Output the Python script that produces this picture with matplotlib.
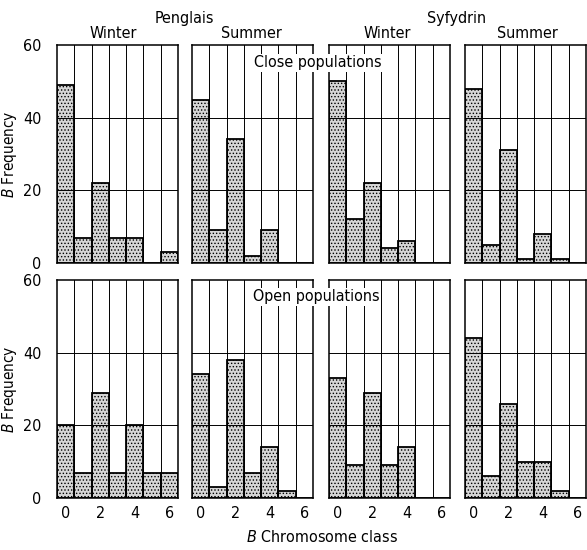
import matplotlib.pyplot as plt
import numpy as np

classes = [0, 1, 2, 3, 4, 5, 6]

# close populations
pen_win_close = [49, 7, 22, 7, 7, 0, 3]
pen_sum_close = [45, 9, 34, 2, 9, 0, 0]
syf_win_close = [50, 12, 22, 4, 6, 0, 0]
syf_sum_close = [48, 5, 31, 1, 8, 1, 0]

# open populations
pen_win_open = [20, 7, 29, 7, 20, 7, 7]
pen_sum_open = [34, 3, 38, 7, 14, 2, 0]
syf_win_open = [33, 9, 29, 9, 14, 0, 0]
syf_sum_open = [44, 6, 26, 10, 10, 2, 0]

rows = [[pen_win_close, pen_sum_close, syf_win_close, syf_sum_close],
        [pen_win_open, pen_sum_open, syf_win_open, syf_sum_open]]

plt.rcParams['font.family'] = ['DejaVu Sans']
plt.rcParams['font.stretch'] = 'condensed'
plt.rcParams['font.size'] = 11
plt.rcParams['hatch.color'] = '#8a8a8a'
plt.rcParams['hatch.linewidth'] = 0.6

fig = plt.figure(figsize=(5.87, 5.5), dpi=100)

lefts = [57, 192, 329, 465]
width = 121
tops = [45, 280]
height = 218

for r in range(2):
    for c in range(4):
        ax = fig.add_axes([lefts[c] / 587, 1 - (tops[r] + height) / 550,
                           width / 587, height / 550])
        bars = ax.bar(classes, rows[r][c], width=1.0, color='#d6d6d6',
                      edgecolor='black', linewidth=1.3, zorder=2, hatch='.....')
        ax.set_xlim(-0.5, 6.5)
        ax.set_ylim(0, 60)
        for x in np.arange(0.5, 6.5, 1):
            ax.axvline(x, color='black', lw=0.7, zorder=3)
        for y in [20, 40]:
            ax.axhline(y, color='black', lw=0.7, zorder=3)
        for s in ax.spines.values():
            s.set_linewidth(1.1)
        ax.tick_params(length=0, labelsize=11.5, pad=6)
        ax.set_yticks([0, 20, 40, 60])
        ax.set_xticks([0, 2, 4, 6])
        if c > 0:
            ax.set_yticklabels([])
        else:
            ax.tick_params(axis='y', pad=11)
            ax.set_ylabel('$B$ Frequency', fontsize=11, labelpad=3)
        if r == 0:
            ax.set_xticklabels([])

fig.text(184 / 587, 1 - 19 / 550, 'Penglais', ha='center', va='center', fontsize=11.5)
fig.text(457 / 587, 1 - 19 / 550, 'Syfydrin', ha='center', va='center', fontsize=11.5)
for xc, lab in [(113, 'Winter'), (251, 'Summer'), (387, 'Winter'), (527, 'Summer')]:
    fig.text(xc / 587, 1 - 33 / 550, lab, ha='center', va='center', fontsize=11.5)
box = dict(facecolor='white', edgecolor='none', pad=1)
fig.text(318 / 587, 1 - 63 / 550, 'Close populations', ha='center', va='center',
         fontsize=11.5, bbox=box, zorder=5)
fig.text(316 / 587, 1 - 297 / 550, 'Open populations', ha='center', va='center',
         fontsize=11.5, bbox=box, zorder=5)
fig.text(322 / 587, 1 - 537 / 550, '$B$ Chromosome class', ha='center', va='center',
         fontsize=11.5)

plt.savefig('out.png', dpi=100)
